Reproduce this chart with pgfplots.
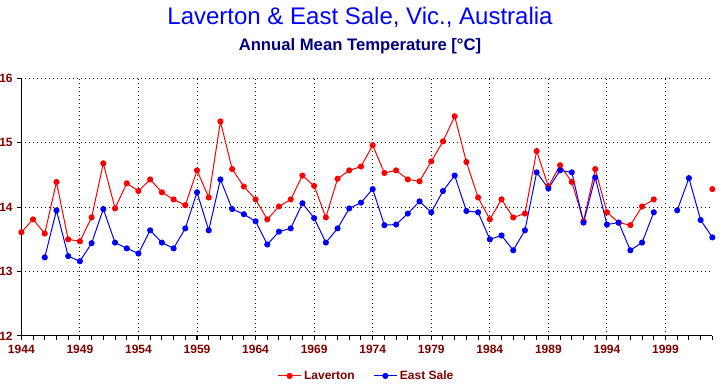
\documentclass[border=0pt]{standalone}
\usepackage{fontspec}
\setmainfont{Liberation Sans}
\usepackage{pgfplots}
\pgfplotsset{compat=1.18}
\usepackage{pgfplotstable}
\definecolor{tickred}{RGB}{128,0,0}
\definecolor{navyc}{RGB}{0,0,128}
\definecolor{lavred}{RGB}{255,0,0}
\definecolor{esblue}{RGB}{0,0,255}

\pgfplotstableread{
year lav
1944 13.61
1945 13.81
1946 13.59
1947 14.39
1948 13.50
1949 13.47
1950 13.84
1951 14.68
1952 13.98
1953 14.37
1954 14.25
1955 14.43
1956 14.23
1957 14.12
1958 14.03
1959 14.57
1960 14.15
1961 15.33
1962 14.59
1963 14.32
1964 14.12
1965 13.81
1966 14.01
1967 14.12
1968 14.49
1969 14.33
1970 13.84
1971 14.44
1972 14.57
1973 14.63
1974 14.96
1975 14.53
1976 14.57
1977 14.43
1978 14.40
1979 14.71
1980 15.02
1981 15.41
1982 14.70
1983 14.15
1984 13.81
1985 14.12
1986 13.84
1987 13.90
1988 14.87
1989 14.32
1990 14.65
1991 14.39
1992 13.78
1993 14.59
1994 13.92
1995 13.76
1996 13.72
1997 14.01
1998 14.12
1999 nan
2000 nan
2001 nan
2002 nan
2003 14.28
}\lavtable

\pgfplotstableread{
year es
1944 nan
1945 nan
1946 13.22
1947 13.95
1948 13.24
1949 13.16
1950 13.44
1951 13.97
1952 13.45
1953 13.36
1954 13.28
1955 13.64
1956 13.45
1957 13.36
1958 13.67
1959 14.23
1960 13.64
1961 14.43
1962 13.97
1963 13.89
1964 13.78
1965 13.42
1966 13.62
1967 13.67
1968 14.06
1969 13.83
1970 13.45
1971 13.67
1972 13.98
1973 14.07
1974 14.28
1975 13.72
1976 13.73
1977 13.90
1978 14.09
1979 13.92
1980 14.25
1981 14.49
1982 13.94
1983 13.92
1984 13.50
1985 13.56
1986 13.33
1987 13.64
1988 14.54
1989 14.29
1990 14.57
1991 14.54
1992 13.76
1993 14.46
1994 13.73
1995 13.76
1996 13.33
1997 13.45
1998 13.92
1999 nan
2000 13.95
2001 14.45
2002 13.80
2003 13.53
}\estable

\begin{document}
\begin{tikzpicture}
\path[use as bounding box, fill=white] (-16pt,-36pt) rectangle (524.75pt,252pt);
\begin{axis}[
  at={(0,0)}, anchor=south west,
  scale only axis, width=518.25pt, height=193.3pt,
  xmin=1944, xmax=2003, ymin=12, ymax=16,
  axis lines*=left,
  xtick={1944,1949,...,1999},
  minor xtick={1944,...,2003},
  ytick={12,13,14,15,16},
  tick align=outside,
  major tick length=3pt, minor tick length=3pt,
  tick style={black, line width=0.75pt},
  axis line style={black, line width=0.75pt},
  grid=major,
  grid style={black, line width=0.75pt, dash pattern=on 0.75pt off 2.25pt},
  /pgf/number format/assume math mode=true,
  x tick label style={/pgf/number format/1000 sep={}},
  ticklabel style={font=\bfseries\fontsize{9}{10}\selectfont, text=tickred},
  unbounded coords=jump,
  clip=false,
  legend style={at={(0.5,-0.155)}, anchor=center, draw=none, fill=none,
    legend columns=2, font=\bfseries\fontsize{9}{11}\selectfont, text=tickred,
    /tikz/every even column/.append style={column sep=12pt}},
  legend image post style={line width=0.75pt},
]
\addplot[lavred, line width=0.75pt, mark=*, mark size=1.9pt, mark options={solid, fill=lavred, draw=lavred}] table[x=year, y=lav] {\lavtable};
\addlegendentry{Laverton}
\addplot[esblue, line width=0.75pt, mark=*, mark size=1.9pt, mark options={solid, fill=esblue, draw=esblue}] table[x=year, y=es] {\estable};
\addlegendentry{East Sale}
\end{axis}
\node[text=esblue, font=\fontsize{18}{21}\selectfont] at (254pt,239.25pt) {Laverton \& East Sale, Vic., Australia};
\node[text=navyc, font=\bfseries\fontsize{12.5}{15}\selectfont] at (254pt,217.5pt) {Annual Mean Temperature [°C]};
\end{tikzpicture}
\end{document}
